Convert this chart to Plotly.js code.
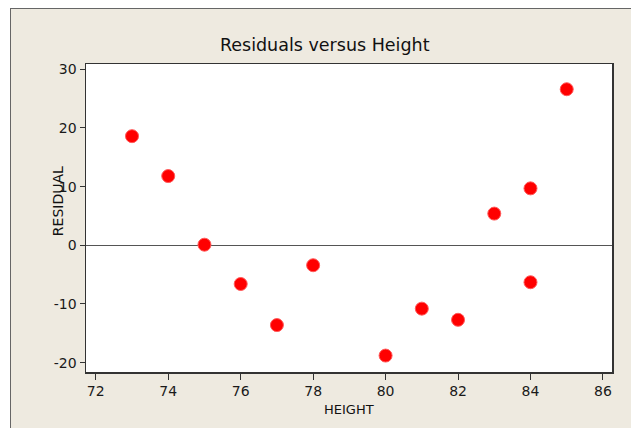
<!DOCTYPE html>
<html>
<head>
<meta charset="utf-8">
<script src="https://cdn.plot.ly/plotly-3.0.1.min.js"></script>
<style>
  html, body { margin: 0; padding: 0; background: #ffffff; width: 631px; height: 428px; overflow: hidden; }
  #frame { position: absolute; left: 10px; top: 8px; width: 620px; height: 419px;
           border-left: 1px solid #666; border-top: 1px solid #666; background: #eeeae0; }
  #chart { width: 620px; height: 419px; }
</style>
</head>
<body>
<div id="frame"><div id="chart"></div></div>
<script>
const height = [73, 74, 75, 76, 77, 78, 80, 81, 82, 83, 84, 84, 85];
const residual = [18.6, 11.8, 0.1, -6.6, -13.6, -3.4, -18.8, -10.8, -12.7, 5.4, -6.3, 9.7, 26.6];
const xTicks = [72, 74, 76, 78, 80, 82, 84, 86];
const yTicks = [-20, -10, 0, 10, 20, 30];

const font = "DejaVu Sans, Verdana, sans-serif";

const trace = {
  x: height, y: residual, type: 'scatter', mode: 'markers',
  marker: { color: '#ff0000', size: 13, line: { color: '#ff5a5a', width: 1 } },
  hoverinfo: 'none'
};

const layout = {
  width: 620, height: 419,
  margin: { l: 75, r: 19, t: 55, b: 56 },
  paper_bgcolor: '#eeeae0', plot_bgcolor: '#ffffff',
  showlegend: false,
  font: { family: font, color: '#1a1a1a' },
  title: { text: 'Residuals versus Height', font: { family: font, size: 17.5, color: '#111' },
           x: 0.506, xref: 'container', xanchor: 'center', y: 0.914, yref: 'container', yanchor: 'middle' },
  xaxis: {
    range: [71.73, 86.25], tickvals: xTicks, ticktext: xTicks.map(String),
    ticks: 'outside', ticklen: 6, tickcolor: '#333', tickwidth: 1,
    showline: true, linecolor: '#333', linewidth: 1.5, mirror: true,
    showgrid: false, zeroline: false,
    tickfont: { family: font, size: 14, color: '#1a1a1a' }
  },
  yaxis: {
    range: [-21.6, 30.9], tickvals: yTicks, ticktext: yTicks.map(String),
    ticks: 'outside', ticklen: 5, tickcolor: '#333', tickwidth: 1,
    showline: true, linecolor: '#333', linewidth: 1.5, mirror: true,
    showgrid: false, zeroline: true, zerolinecolor: '#555', zerolinewidth: 1,
    tickfont: { family: font, size: 14, color: '#1a1a1a' }
  },
  annotations: [
    { text: 'HEIGHT', xref: 'paper', yref: 'paper', x: 0.5, y: -0.123, yanchor: 'middle',
      showarrow: false, font: { family: font, size: 13, color: '#111' } },
    { text: 'RESIDUAL', xref: 'paper', yref: 'paper', x: -0.053, y: 0.555, textangle: -90,
      xanchor: 'center', yanchor: 'middle',
      showarrow: false, font: { family: font, size: 14, color: '#111' } }
  ]
};

Plotly.newPlot('chart', [trace], layout, { staticPlot: true, displayModeBar: false });
</script>
</body>
</html>
